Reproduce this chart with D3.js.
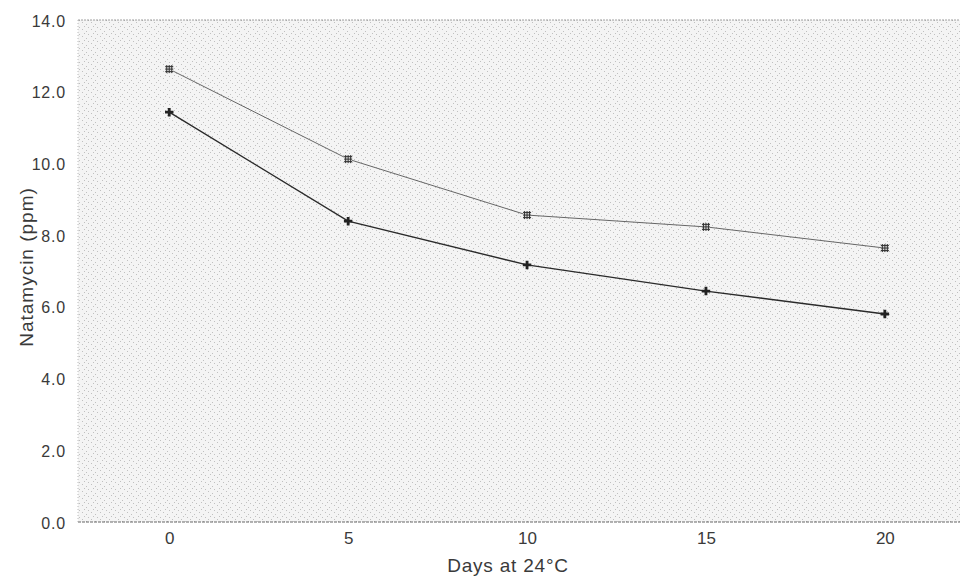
<!DOCTYPE html>
<html>
<head>
<meta charset="utf-8">
<script src="https://cdn.jsdelivr.net/npm/d3@7"></script>
<style>
  body { margin: 0; background: #fff; }
  text { font-family: "Liberation Sans", Arial, sans-serif; fill: #3a3a3a; }
</style>
</head>
<body>
<svg id="chart" width="960" height="580"></svg>
<script>
var svg = d3.select("#chart"),
  width = +svg.attr("width"),
  height = +svg.attr("height");

// Data
var days = [0, 5, 10, 15, 20];
var upperSeries = [12.63, 10.12, 8.56, 8.23, 7.64];
var lowerSeries = [11.43, 8.39, 7.17, 6.44, 5.80];
var yTicks = [0, 2, 4, 6, 8, 10, 12, 14];

var margin = {left: 78, right: 0, top: 20, bottom: 58};

var x = d3.scaleLinear()
  .domain([-2.55, 22.1])
  .range([margin.left, width - margin.right]);
var y = d3.scaleLinear()
  .domain([0, 14])
  .range([height - margin.bottom, margin.top]);

// stippled background, like the scan
var defs = svg.append("defs");
var pat = defs.append("pattern")
  .attr("id", "stipple")
  .attr("width", 9).attr("height", 7)
  .attr("patternUnits", "userSpaceOnUse");
pat.append("rect").attr("width", 9).attr("height", 7).attr("fill", "#f4f4f4");
[[1, 1], [5, 3], [3, 5], [7, 6]].forEach(function(p) {
  pat.append("rect").attr("x", p[0]).attr("y", p[1])
    .attr("width", 1).attr("height", 1).attr("fill", "#c0c0c0");
});

svg.append("rect")
  .attr("x", x.range()[0]).attr("y", y(14))
  .attr("width", x.range()[1] - x.range()[0])
  .attr("height", y(0) - y(14))
  .attr("fill", "url(#stipple)");

// frame lines (dotted like the scan)
svg.append("line")
  .attr("x1", x.range()[0]).attr("x2", x.range()[1])
  .attr("y1", y(14)).attr("y2", y(14))
  .attr("stroke", "#888").attr("stroke-dasharray", "2,1").attr("stroke-width", 0.8);
svg.append("line")
  .attr("x1", x.range()[0]).attr("x2", x.range()[1])
  .attr("y1", y(0)).attr("y2", y(0))
  .attr("stroke", "#666").attr("stroke-dasharray", "3,1").attr("stroke-width", 1);
svg.append("line")
  .attr("x1", x.range()[0]).attr("x2", x.range()[0])
  .attr("y1", y(14)).attr("y2", y(0))
  .attr("stroke", "#aaa").attr("stroke-dasharray", "1,2").attr("stroke-width", 0.8);

// Y axis labels
var yAxis = d3.axisLeft(y)
  .tickValues(yTicks)
  .tickFormat(d3.format(".1f"))
  .tickSize(0)
  .tickPadding(12);
svg.append("g")
  .attr("transform", "translate(" + x.range()[0] + ",1)")
  .call(yAxis)
  .call(function(g) { g.select(".domain").remove(); })
  .selectAll("text")
  .style("font-size", "16px")
  .style("letter-spacing", "0.8px")
  .style("fill", "#3a3a3a");

// X axis labels
var xAxis = d3.axisBottom(x)
  .tickValues(days)
  .tickFormat(d3.format("d"))
  .tickSize(0)
  .tickPadding(10);
svg.append("g")
  .attr("transform", "translate(0," + y(0) + ")")
  .call(xAxis)
  .call(function(g) { g.select(".domain").remove(); })
  .selectAll("text")
  .style("font-size", "17px")
  .style("fill", "#3a3a3a");

// axis titles
svg.append("text")
  .attr("x", 508)
  .attr("y", 572)
  .attr("text-anchor", "middle")
  .style("font-size", "19px")
  .style("letter-spacing", "0.8px")
  .text("Days at 24°C");

svg.append("text")
  .attr("transform", "translate(33,267) rotate(-90)")
  .attr("text-anchor", "middle")
  .style("font-size", "19px")
  .style("letter-spacing", "1px")
  .text("Natamycin (ppm)");

// lines
var line = d3.line()
  .x(function(d, i) { return x(days[i]); })
  .y(function(d) { return y(d); });

svg.append("path")
  .datum(upperSeries)
  .attr("d", line)
  .attr("fill", "none")
  .attr("stroke", "#666")
  .attr("stroke-width", 1);

svg.append("path")
  .datum(lowerSeries)
  .attr("d", line)
  .attr("fill", "none")
  .attr("stroke", "#2a2a2a")
  .attr("stroke-width", 1.4);

// upper markers: hatched squares
var hatch = svg.append("g").selectAll("g")
  .data(upperSeries)
  .enter().append("g")
  .attr("transform", function(d, i) { return "translate(" + x(days[i]) + "," + y(d) + ")"; });
hatch.append("rect")
  .attr("x", -4).attr("y", -4).attr("width", 8).attr("height", 8)
  .attr("fill", "#ddd");
[-2.5, 0, 2.5].forEach(function(o) {
  hatch.append("line").attr("x1", o).attr("x2", o).attr("y1", -4).attr("y2", 4)
    .attr("stroke", "#333").attr("stroke-width", 1);
  hatch.append("line").attr("y1", o).attr("y2", o).attr("x1", -4).attr("x2", 4)
    .attr("stroke", "#333").attr("stroke-width", 1);
});

// lower markers: small filled crosses
svg.append("g").selectAll("path")
  .data(lowerSeries)
  .enter().append("path")
  .attr("transform", function(d, i) { return "translate(" + x(days[i]) + "," + y(d) + ")"; })
  .attr("d", d3.symbol().type(d3.symbolCross).size(40))
  .attr("fill", "#222");
</script>
</body>
</html>
